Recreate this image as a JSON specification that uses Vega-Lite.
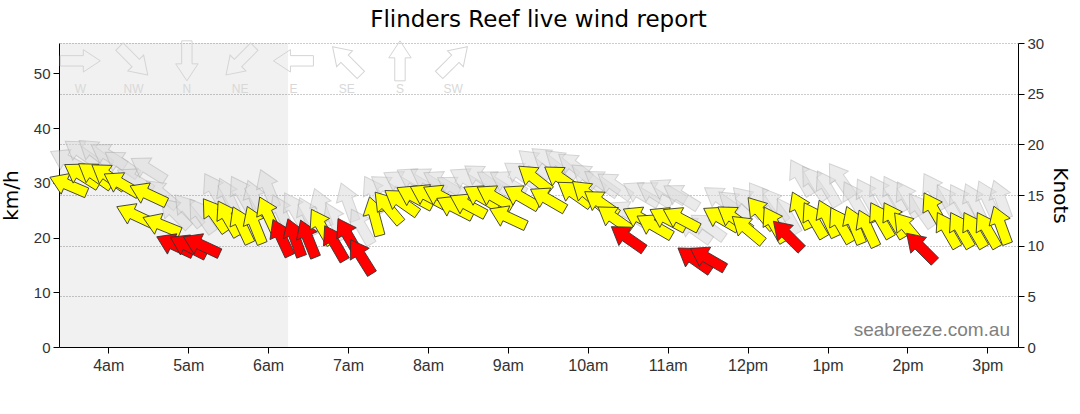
{
  "$schema": "https://vega.github.io/schema/vega-lite/v6.json",
  "width": 959,
  "height": 304,
  "padding": {"left": 1, "top": 9, "right": 0, "bottom": 43},
  "background": "white",
  "title": {
    "text": "Flinders Reef live wind report",
    "font": "DejaVu Sans",
    "fontSize": 23,
    "fontWeight": "normal",
    "color": "#000",
    "anchor": "middle",
    "frame": "group"
  },
  "config": {
    "view": {"stroke": null},
    "axis": {
      "labelFont": "Liberation Sans",
      "labelColor": "#333",
      "titleFont": "DejaVu Sans",
      "titleFontWeight": "normal",
      "titleColor": "#000",
      "titleFontSize": 20,
      "domainColor": "#000",
      "tickColor": "#000",
      "tickSize": 6
    }
  },
  "datasets": {
    "obs": [
      {"t": "2024-05-10T03:30", "kmh": 29.6, "gust": 34.0, "dir": 113, "gdir": 118},
      {"t": "2024-05-10T03:40", "kmh": 31.4, "gust": 35.5, "dir": 122, "gdir": 125},
      {"t": "2024-05-10T03:50", "kmh": 31.4, "gust": 35.5, "dir": 125, "gdir": 128},
      {"t": "2024-05-10T04:00", "kmh": 31.2, "gust": 35.0, "dir": 125, "gdir": 122},
      {"t": "2024-05-10T04:10", "kmh": 29.8, "gust": 33.5, "dir": 120, "gdir": 125},
      {"t": "2024-05-10T04:20", "kmh": 24.1, "gust": 30.5, "dir": 115, "gdir": 120},
      {"t": "2024-05-10T04:30", "kmh": 27.9, "gust": 32.5, "dir": 115, "gdir": 122},
      {"t": "2024-05-10T04:40", "kmh": 22.3, "gust": 28.0, "dir": 112, "gdir": 130},
      {"t": "2024-05-10T04:50", "kmh": 18.6, "gust": 24.5, "dir": 115, "gdir": 135},
      {"t": "2024-05-10T05:00", "kmh": 18.4, "gust": 25.0, "dir": 117, "gdir": 140},
      {"t": "2024-05-10T05:10", "kmh": 18.6, "gust": 24.0, "dir": 115, "gdir": 145},
      {"t": "2024-05-10T05:20", "kmh": 24.1, "gust": 28.5, "dir": 145, "gdir": 150},
      {"t": "2024-05-10T05:30", "kmh": 23.5, "gust": 27.5, "dir": 150, "gdir": 155},
      {"t": "2024-05-10T05:40", "kmh": 22.3, "gust": 28.0, "dir": 155, "gdir": 150},
      {"t": "2024-05-10T05:50", "kmh": 22.3, "gust": 27.0, "dir": 158, "gdir": 160},
      {"t": "2024-05-10T06:00", "kmh": 24.1, "gust": 29.0, "dir": 155, "gdir": 158},
      {"t": "2024-05-10T06:10", "kmh": 20.0, "gust": 24.5, "dir": 155, "gdir": 155},
      {"t": "2024-05-10T06:20", "kmh": 20.0, "gust": 25.0, "dir": 160, "gdir": 150},
      {"t": "2024-05-10T06:30", "kmh": 19.8, "gust": 24.0, "dir": 158, "gdir": 155},
      {"t": "2024-05-10T06:40", "kmh": 22.0, "gust": 25.5, "dir": 150, "gdir": 160},
      {"t": "2024-05-10T06:50", "kmh": 19.0, "gust": 23.0, "dir": 150, "gdir": 155},
      {"t": "2024-05-10T07:00", "kmh": 20.3, "gust": 26.5, "dir": 150, "gdir": 160},
      {"t": "2024-05-10T07:10", "kmh": 16.5, "gust": 22.0, "dir": 148, "gdir": 150},
      {"t": "2024-05-10T07:20", "kmh": 23.9, "gust": 28.0, "dir": 165, "gdir": 150},
      {"t": "2024-05-10T07:30", "kmh": 25.5, "gust": 29.0, "dir": 140, "gdir": 125},
      {"t": "2024-05-10T07:40", "kmh": 26.5, "gust": 30.0, "dir": 125, "gdir": 120},
      {"t": "2024-05-10T07:50", "kmh": 27.4, "gust": 30.5, "dir": 118, "gdir": 120},
      {"t": "2024-05-10T08:00", "kmh": 27.6, "gust": 30.5, "dir": 118, "gdir": 122},
      {"t": "2024-05-10T08:10", "kmh": 27.5, "gust": 30.0, "dir": 118, "gdir": 120},
      {"t": "2024-05-10T08:20", "kmh": 25.5, "gust": 29.0, "dir": 117, "gdir": 122},
      {"t": "2024-05-10T08:30", "kmh": 25.9, "gust": 30.5, "dir": 118, "gdir": 120},
      {"t": "2024-05-10T08:40", "kmh": 27.4, "gust": 31.0, "dir": 120, "gdir": 125},
      {"t": "2024-05-10T08:50", "kmh": 27.4, "gust": 30.0, "dir": 120, "gdir": 122},
      {"t": "2024-05-10T09:00", "kmh": 23.7, "gust": 30.0, "dir": 115, "gdir": 120},
      {"t": "2024-05-10T09:10", "kmh": 27.4, "gust": 31.5, "dir": 120, "gdir": 125},
      {"t": "2024-05-10T09:20", "kmh": 30.8, "gust": 33.5, "dir": 128, "gdir": 130},
      {"t": "2024-05-10T09:30", "kmh": 27.0, "gust": 34.0, "dir": 120, "gdir": 128},
      {"t": "2024-05-10T09:40", "kmh": 30.8, "gust": 33.5, "dir": 125, "gdir": 130},
      {"t": "2024-05-10T09:50", "kmh": 28.0, "gust": 33.0, "dir": 125, "gdir": 128},
      {"t": "2024-05-10T10:00", "kmh": 27.9, "gust": 31.0, "dir": 130, "gdir": 128},
      {"t": "2024-05-10T10:10", "kmh": 26.3, "gust": 30.0, "dir": 125, "gdir": 125},
      {"t": "2024-05-10T10:20", "kmh": 23.5, "gust": 29.5, "dir": 125, "gdir": 125},
      {"t": "2024-05-10T10:30", "kmh": 19.9, "gust": 24.5, "dir": 125, "gdir": 120},
      {"t": "2024-05-10T10:40", "kmh": 23.5, "gust": 28.0, "dir": 118, "gdir": 120},
      {"t": "2024-05-10T10:50", "kmh": 22.1, "gust": 28.0, "dir": 120, "gdir": 122},
      {"t": "2024-05-10T11:00", "kmh": 23.4, "gust": 28.5, "dir": 118, "gdir": 120},
      {"t": "2024-05-10T11:10", "kmh": 23.4, "gust": 27.5, "dir": 118, "gdir": 122},
      {"t": "2024-05-10T11:20", "kmh": 16.0, "gust": 21.5, "dir": 125, "gdir": 125},
      {"t": "2024-05-10T11:30", "kmh": 16.2, "gust": 22.0, "dir": 120, "gdir": 125},
      {"t": "2024-05-10T11:40", "kmh": 23.5, "gust": 27.0, "dir": 120, "gdir": 125},
      {"t": "2024-05-10T11:50", "kmh": 23.5, "gust": 26.0, "dir": 125, "gdir": 130},
      {"t": "2024-05-10T12:00", "kmh": 21.5, "gust": 26.5, "dir": 130, "gdir": 135},
      {"t": "2024-05-10T12:10", "kmh": 24.5, "gust": 27.0, "dir": 140, "gdir": 145},
      {"t": "2024-05-10T12:20", "kmh": 22.4, "gust": 26.0, "dir": 150, "gdir": 145},
      {"t": "2024-05-10T12:30", "kmh": 20.4, "gust": 24.0, "dir": 135, "gdir": 150},
      {"t": "2024-05-10T12:40", "kmh": 25.0, "gust": 31.0, "dir": 155, "gdir": 150},
      {"t": "2024-05-10T12:50", "kmh": 23.2, "gust": 30.0, "dir": 150, "gdir": 145},
      {"t": "2024-05-10T13:00", "kmh": 23.5, "gust": 29.0, "dir": 155, "gdir": 150},
      {"t": "2024-05-10T13:10", "kmh": 22.3, "gust": 30.5, "dir": 150, "gdir": 145},
      {"t": "2024-05-10T13:20", "kmh": 22.3, "gust": 27.0, "dir": 158, "gdir": 150},
      {"t": "2024-05-10T13:30", "kmh": 21.7, "gust": 27.5, "dir": 155, "gdir": 150},
      {"t": "2024-05-10T13:40", "kmh": 23.2, "gust": 28.0, "dir": 150, "gdir": 150},
      {"t": "2024-05-10T13:50", "kmh": 23.2, "gust": 28.0, "dir": 150, "gdir": 150},
      {"t": "2024-05-10T14:00", "kmh": 21.7, "gust": 27.0, "dir": 140, "gdir": 150},
      {"t": "2024-05-10T14:10", "kmh": 18.2, "gust": 25.0, "dir": 135, "gdir": 145},
      {"t": "2024-05-10T14:20", "kmh": 25.0, "gust": 28.5, "dir": 150, "gdir": 150},
      {"t": "2024-05-10T14:30", "kmh": 21.4, "gust": 26.5, "dir": 150, "gdir": 150},
      {"t": "2024-05-10T14:40", "kmh": 21.4, "gust": 26.5, "dir": 150, "gdir": 150},
      {"t": "2024-05-10T14:50", "kmh": 21.4, "gust": 26.5, "dir": 150, "gdir": 155},
      {"t": "2024-05-10T15:00", "kmh": 21.4, "gust": 27.0, "dir": 150, "gdir": 155},
      {"t": "2024-05-10T15:10", "kmh": 22.3, "gust": 27.0, "dir": 160, "gdir": 160}
    ],
    "compass": [
      {"name": "W", "dir": 270, "t": "2024-05-10T03:39"},
      {"name": "NW", "dir": 315, "t": "2024-05-10T04:19"},
      {"name": "N", "dir": 0, "t": "2024-05-10T04:59"},
      {"name": "NE", "dir": 45, "t": "2024-05-10T05:39"},
      {"name": "E", "dir": 90, "t": "2024-05-10T06:19"},
      {"name": "SE", "dir": 135, "t": "2024-05-10T06:59"},
      {"name": "S", "dir": 180, "t": "2024-05-10T07:39"},
      {"name": "SW", "dir": 225, "t": "2024-05-10T08:19"}
    ]
  },
  "layer": [
    {
      "data": {"values": [{"start": "2024-05-10T03:23", "end": "2024-05-10T06:15"}]},
      "mark": {"type": "rect", "fill": "#000", "fillOpacity": 0.055},
      "encoding": {
        "x": {
          "field": "start", "type": "temporal", "title": null,
          "scale": {"domain": [
            {"year": 2024, "month": 5, "date": 10, "hours": 3, "minutes": 23},
            {"year": 2024, "month": 5, "date": 10, "hours": 15, "minutes": 23}
          ], "nice": false},
          "axis": {
            "orient": "bottom", "grid": false, "tickCount": 12, "format": "%-I%p",
            "labelExpr": "lower(datum.label)",
            "labelFontSize": 16, "labelPadding": 4
          }
        },
        "x2": {"field": "end"}
      }
    },
    {
      "data": {"name": "obs"},
      "mark": {
        "type": "point", "filled": true, "opacity": 0.55,
        "shape": "M0,-1L0.56,-0.15L0.26,-0.15L0.26,1L-0.26,1L-0.26,-0.15L-0.56,-0.15Z",
        "size": 1600, "fill": "#dcdcdc", "stroke": "#b0b0b0", "strokeWidth": 1
      },
      "encoding": {
        "x": {"field": "t", "type": "temporal", "title": null},
        "y": {
          "field": "gust", "type": "quantitative", "title": "km/h",
          "scale": {"domain": [0, 55.56], "nice": false},
          "axis": {
            "orient": "left", "values": [0, 10, 20, 30, 40, 50], "grid": false,
            "labelFontSize": 15, "labelPadding": 3, "titlePadding": 12
          }
        },
        "angle": {"field": "gdir", "type": "quantitative", "scale": {"domain": [0, 360], "range": [180, 540]}}
      }
    },
    {
      "data": {"name": "obs"},
      "mark": {
        "type": "point", "filled": true, "opacity": 1,
        "shape": "M0,-1L0.56,-0.15L0.26,-0.15L0.26,1L-0.26,1L-0.26,-0.15L-0.56,-0.15Z",
        "size": 1600, "stroke": "#333", "strokeWidth": 0.8
      },
      "encoding": {
        "x": {"field": "t", "type": "temporal", "title": null},
        "y": {"field": "kmh", "type": "quantitative", "scale": {"domain": [0, 55.56], "nice": false}, "axis": null},
        "angle": {"field": "dir", "type": "quantitative", "scale": {"domain": [0, 360], "range": [180, 540]}},
        "color": {
          "field": "kmh", "type": "quantitative",
          "scale": {"type": "threshold", "domain": [21], "range": ["#ff0000", "#ffff00"]},
          "legend": null
        }
      }
    },
    {
      "data": {"name": "compass"},
      "mark": {
        "type": "point", "filled": false, "opacity": 1,
        "shape": "M0,-1L0.56,-0.15L0.26,-0.15L0.26,1L-0.26,1L-0.26,-0.15L-0.56,-0.15Z",
        "size": 1600, "color": "#d4d4d4", "strokeWidth": 1
      },
      "encoding": {
        "x": {"field": "t", "type": "temporal", "title": null},
        "y": {"datum": 52.3, "type": "quantitative", "scale": {"domain": [0, 55.56], "nice": false}, "axis": null},
        "angle": {"field": "dir", "type": "quantitative", "scale": {"domain": [0, 360], "range": [180, 540]}}
      }
    },
    {
      "data": {"name": "compass"},
      "mark": {"type": "text", "font": "Liberation Sans", "fontSize": 12, "color": "#d8d8d8", "baseline": "middle"},
      "encoding": {
        "x": {"field": "t", "type": "temporal", "title": null},
        "y": {"datum": 47.2, "type": "quantitative", "scale": {"domain": [0, 55.56], "nice": false}, "axis": null},
        "text": {"field": "name"}
      }
    },
    {
      "data": {"values": [{"site": "seabreeze.com.au", "t": "2024-05-10T15:17", "kt": 1.08}]},
      "mark": {"type": "text", "align": "right", "baseline": "alphabetic", "font": "Liberation Sans", "fontSize": 19, "color": "#808080"},
      "encoding": {
        "x": {"field": "t", "type": "temporal", "title": null},
        "y": {
          "field": "kt", "type": "quantitative", "title": "Knots",
          "scale": {"domain": [0, 30], "nice": false},
          "axis": {
            "orient": "right", "values": [0, 5, 10, 15, 20, 25, 30],
            "grid": true, "gridDash": [1, 2], "gridColor": "#999",
            "labelFontSize": 15, "labelPadding": 3, "titlePadding": 6
          }
        },
        "text": {"field": "site"}
      }
    }
  ],
  "resolve": {"scale": {"y": "independent"}}
}
